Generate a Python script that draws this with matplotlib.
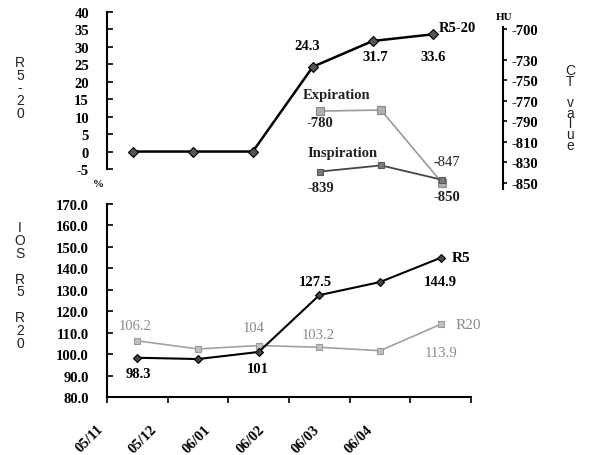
import numpy as np
import matplotlib
matplotlib.use('Agg')
import matplotlib.pyplot as plt

# IOS resistance and CT density over the follow-up visits
dates = ['05/11', '05/12', '06/01', '06/02', '06/03', '06/04']
r5_20 = [0, 0, 0, 24.3, 31.7, 33.6]          # %
ct_visits = [3, 4, 5]                          # visits with a CT scan
expiration = [-780, -779, -850]                # HU
inspiration = [-839, -833, -847]               # HU
r5 = [98.3, 97.7, 101, 127.5, 133.6, 144.9]
r20 = [106.2, 102.4, 104, 103.2, 101.6, 113.9]

r5_20_ticks = list(range(-5, 45, 5))
ct_ticks = [-700, -730, -750, -770, -790, -810, -830, -850]
ios_ticks = list(range(80, 180, 10))

SERIF = 'Liberation Serif'
SANS = 'Liberation Sans'
plt.rcParams['font.family'] = SERIF
plt.rcParams['axes.unicode_minus'] = False

W, H = 595, 456
fig = plt.figure(figsize=(W / 100, H / 100), dpi=100)


def box(x0, y0, x1, y1):
    # pixel box (top-left origin) -> figure fraction
    return [x0 / W, 1 - y1 / H, (x1 - x0) / W, (y1 - y0) / H]


def bold_ticks(ax):
    for lab in ax.get_yticklabels():
        lab.set_fontweight('bold')


# ---- top panel: R5-20 (%) ----
ax_top = fig.add_axes(box(107, 13, 503, 170))
ax_top.set_xlim(-0.43, 6.17)
ax_top.set_ylim(-5, 40)
ax_top.plot(range(len(dates)), r5_20, color='black', lw=1.8, marker='D', ms=5,
            mfc='#555555', mec='black', mew=0.8, zorder=3)
for s in ['top', 'right', 'bottom']:
    ax_top.spines[s].set_visible(False)
ax_top.spines['left'].set_linewidth(1.5)
ax_top.set_xticks([])
ax_top.set_yticks(r5_20_ticks)
ax_top.tick_params(axis='y', direction='in', length=4, width=1.2, pad=13,
                   labelsize=10.5)
bold_ticks(ax_top)

bold = dict(fontsize=10.5, fontweight='bold', ha='center', va='center',
            textcoords='offset points')
ax_top.annotate('24.3', (3, r5_20[3]), xytext=(-4, 15), **bold)
ax_top.annotate('31.7', (4, r5_20[4]), xytext=(1.5, -11), **bold)
ax_top.annotate('33.6', (5, r5_20[5]), xytext=(0, -16), **bold)
ax_top.annotate('R5-20', (5, r5_20[5]), xytext=(4, 5), textcoords='offset points',
                fontsize=10.5, fontweight='bold', ha='left', va='center')

# ---- CT value axis (HU), right side of the top panel ----
ax_ct = fig.add_axes(box(107, 28, 503, 190))
ax_ct.patch.set_visible(False)
ax_ct.set_xlim(-0.494, 6.0)
ax_ct.set_ylim(-856, -698)
ax_ct.plot(ct_visits, expiration, color='#9a9a9a', lw=1.2, marker='s', ms=5.5,
           mfc='#b0b0b0', mec='#8a8a8a', mew=0.8, zorder=3)
ax_ct.plot(ct_visits, inspiration, color='#444444', lw=1.3, marker='s', ms=5,
           mfc='#7a7a7a', mec='#555555', mew=0.8, zorder=3)
for s in ['top', 'left', 'bottom']:
    ax_ct.spines[s].set_visible(False)
ax_ct.spines['right'].set_linewidth(1.5)
ax_ct.set_xticks([])
ax_ct.yaxis.tick_right()
ax_ct.set_yticks(ct_ticks)
ax_ct.tick_params(axis='y', direction='out', length=3, width=1.2, pad=3,
                  labelsize=10.5)
bold_ticks(ax_ct)

dark = dict(bold, color='#222222')
ax_ct.annotate('Expiration', (3, expiration[0]), xytext=(12, 12), **dark)
ax_ct.annotate('-780', (3, expiration[0]), xytext=(0, -8), **dark)
ax_ct.annotate('Inspiration', (3, inspiration[0]), xytext=(16, 13.5), **dark)
ax_ct.annotate('-839', (3, inspiration[0]), xytext=(0.5, -11.5), **dark)
ax_ct.annotate('-847', (5, inspiration[2]), xytext=(3.5, 13.5),
               textcoords='offset points', fontsize=10.5, ha='center',
               va='center', color='#222222')
ax_ct.annotate('-850', (5, expiration[2]), xytext=(3.5, -10), **dark)

# ---- bottom panel: IOS R5 / R20 ----
ax_bot = fig.add_axes(box(107, 205, 471, 398))
ax_bot.set_xlim(-0.5, 5.5)
ax_bot.set_ylim(80, 170)
x = np.arange(len(dates))
ax_bot.plot(x, r20, color='#a0a0a0', lw=1.2, marker='s', ms=5,
            mfc='#c0c0c0', mec='#9a9a9a', mew=0.8, zorder=2)
ax_bot.plot(x, r5, color='black', lw=1.5, marker='D', ms=4.5,
            mfc='#444444', mec='black', mew=0.8, zorder=3)
for s in ['top', 'right']:
    ax_bot.spines[s].set_visible(False)
ax_bot.spines['left'].set_linewidth(1.5)
ax_bot.spines['bottom'].set_linewidth(1.5)
ax_bot.set_yticks(ios_ticks)
ax_bot.set_yticklabels([f'{v:.1f}' for v in ios_ticks])
ax_bot.tick_params(axis='y', direction='in', length=4, width=1.2, pad=13,
                   labelsize=10.5)
bold_ticks(ax_bot)
ax_bot.set_xticks(np.arange(len(dates) + 1) - 0.5)
ax_bot.set_xticklabels([])
ax_bot.tick_params(axis='x', direction='out', length=4, width=1.2)

# date labels, slanted under the axis
label_x = np.linspace(-0.675, 3.775, len(dates))
for lx, d in zip(label_x, dates):
    ax_bot.text(lx, -0.13, d, transform=ax_bot.get_xaxis_transform(),
                rotation=45, rotation_mode='anchor', ha='right', va='top',
                fontsize=10.5, fontweight='bold')

ax_bot.annotate('98.3', (0, r5[0]), xytext=(0.5, -11.5), **bold)
ax_bot.annotate('101', (2, r5[2]), xytext=(-0.5, -12), **bold)
ax_bot.annotate('127.5', (3, r5[3]), xytext=(-3, 10), **bold)
ax_bot.annotate('144.9', (5, r5[5]), xytext=(0, -17), **bold)
ax_bot.annotate('R5', (5, r5[5]), xytext=(8, 0), textcoords='offset points',
                fontsize=11, fontweight='bold', ha='left', va='center')

gray = dict(fontsize=10.5, ha='center', va='center', color='#8a8a8a',
            textcoords='offset points')
ax_bot.annotate('106.2', (0, r20[0]), xytext=(-1.5, 11), **gray)
ax_bot.annotate('104', (2, r20[2]), xytext=(-3.5, 13), **gray)
ax_bot.annotate('103.2', (3, r20[3]), xytext=(-0.5, 9.5), **gray)
ax_bot.annotate('113.9', (5, r20[5]), xytext=(0, -20), **gray)
ax_bot.annotate('R20', (5, r20[5]), xytext=(11, 0), textcoords='offset points',
                fontsize=11, ha='left', va='center', color='#8a8a8a')

# ---- stacked axis titles and units ----
stack = dict(fontsize=10, family=SANS, ha='center', va='top', color='#222222')
fig.text(20 / W, 1 - 56 / H, '\n'.join('R5-20'), linespacing=0.88, **stack)
fig.text(20 / W, 1 - 221 / H, '\n'.join('IOS R5 R20'), linespacing=0.9, **stack)
fig.text(570 / W, 1 - 64 / H, '\n'.join('CT value'), linespacing=0.7, **stack)
fig.text(98 / W, 1 - 185 / H, '%', fontsize=8, fontweight='bold',
         ha='center', va='center')
fig.text(504 / W, 1 - 18 / H, 'HU', fontsize=8, fontweight='bold',
         ha='center', va='center')

fig.savefig('out.png', dpi=100)
